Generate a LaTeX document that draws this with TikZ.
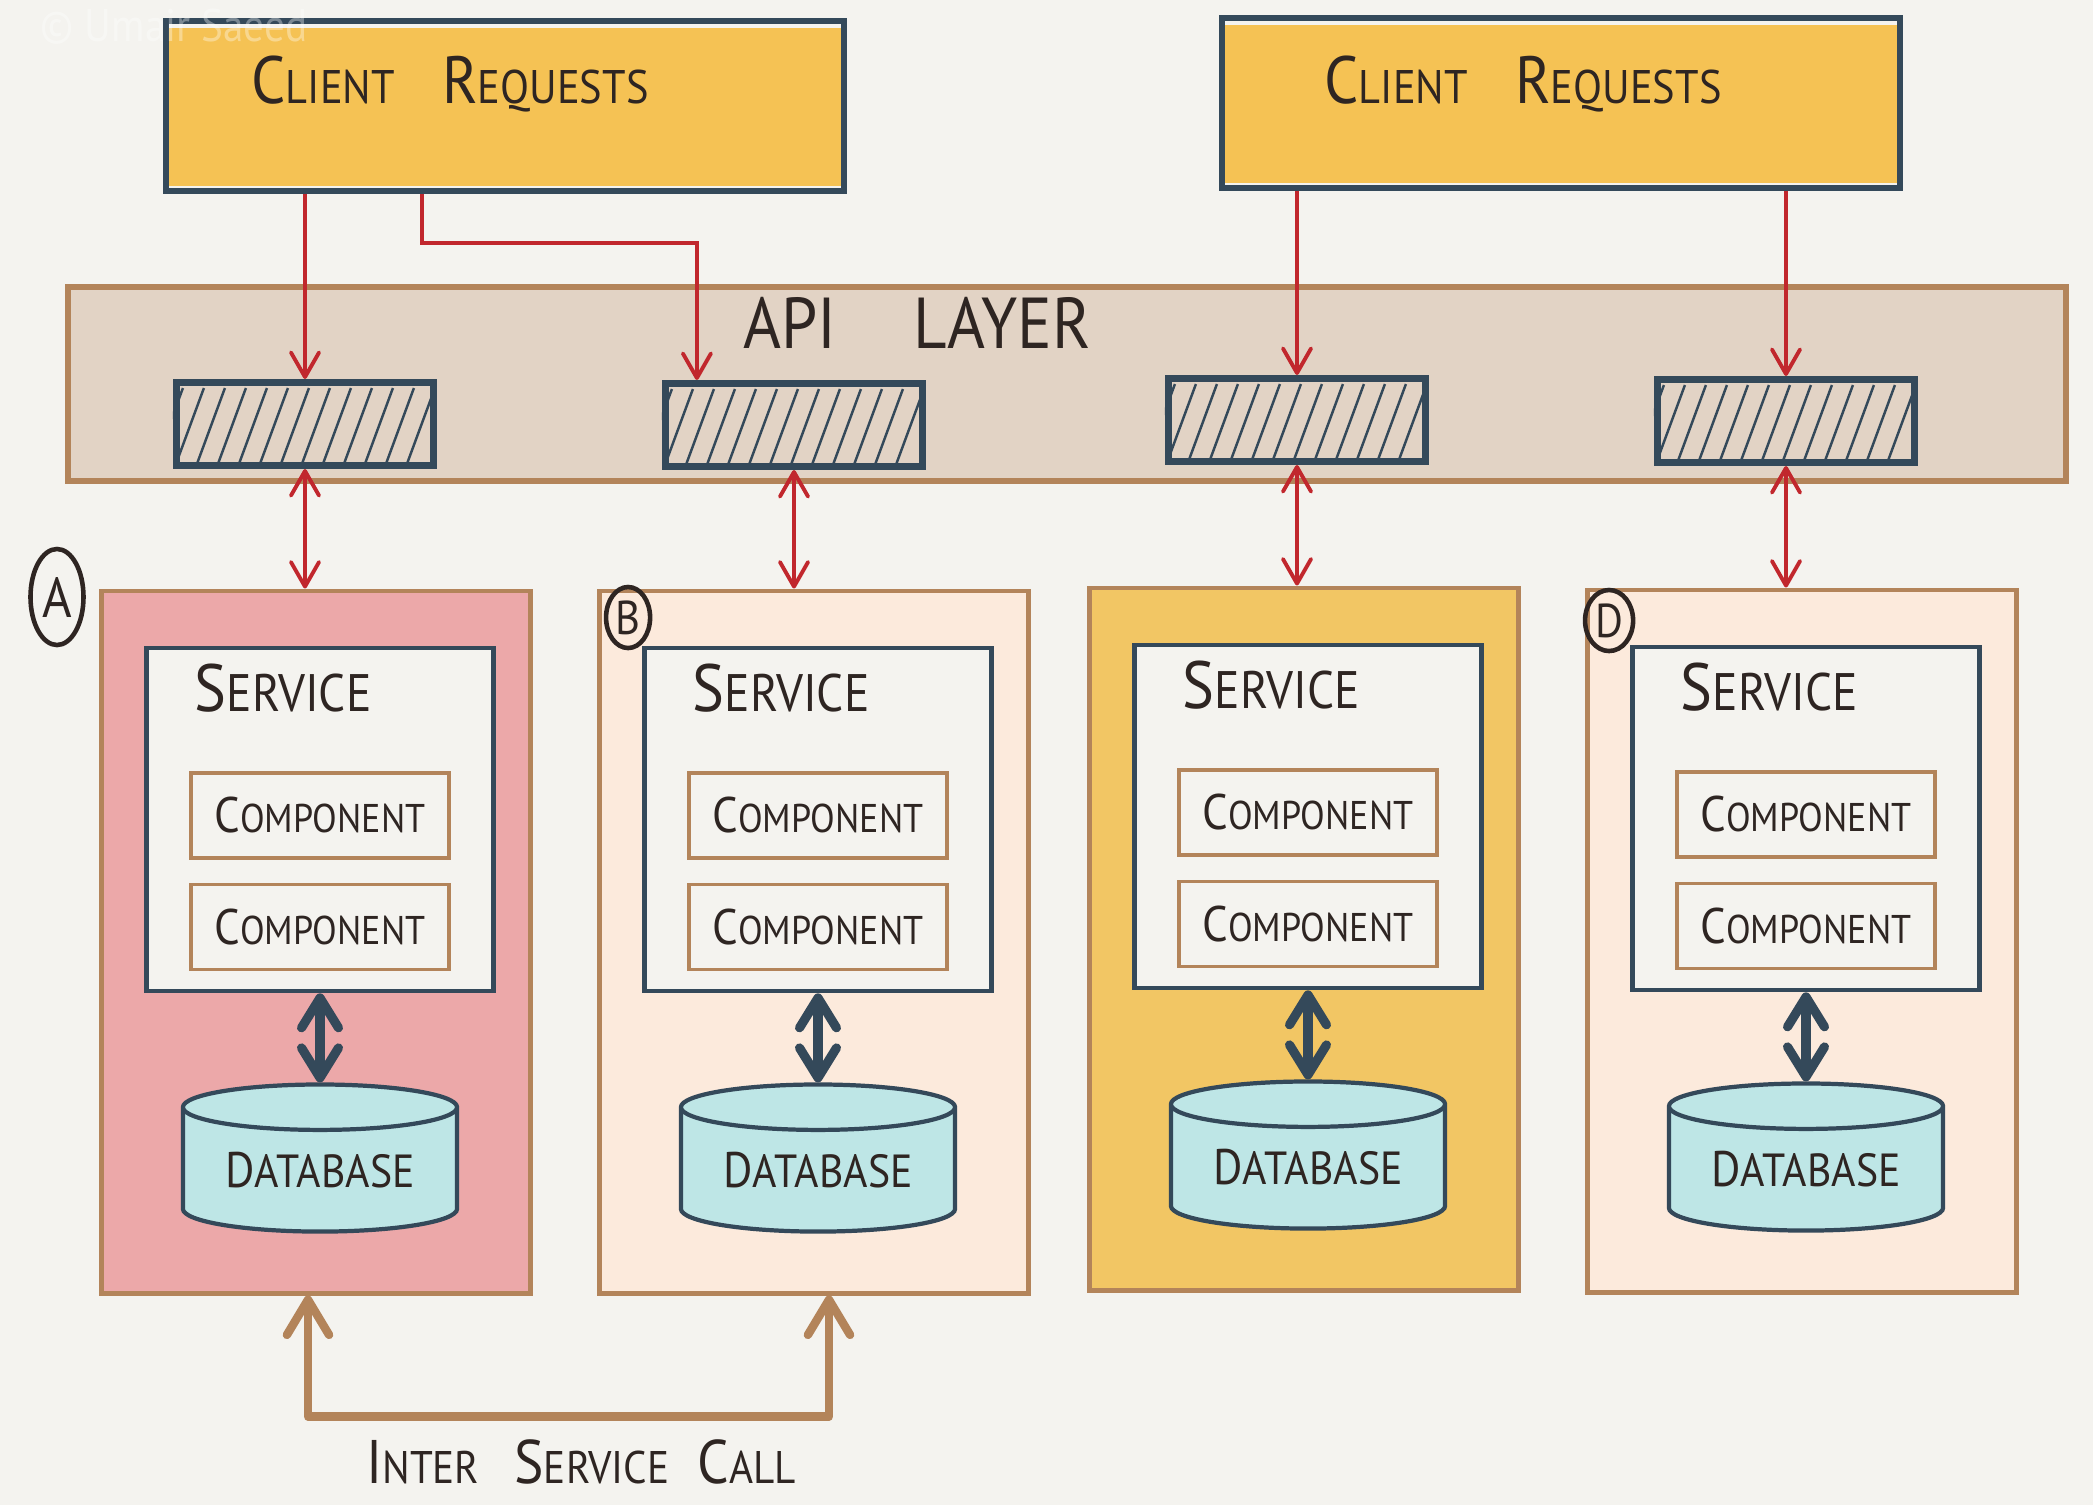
\documentclass[tikz,border=0pt]{standalone}
\usepackage{fontspec}
\setmainfont{PT Sans}[FakeStretch=0.9]
\usetikzlibrary{arrows.meta,positioning,shapes.geometric}
\definecolor{paper}{HTML}{F4F3EF}
\definecolor{slate}{HTML}{34495A}
\definecolor{brownline}{HTML}{B3845A}
\definecolor{reqyellow}{HTML}{F5C254}
\definecolor{apifill}{HTML}{E2D3C5}
\definecolor{washred}{HTML}{ECA8A9}
\definecolor{washpeach}{HTML}{FCEADC}
\definecolor{washyellow}{HTML}{F2C664}
\definecolor{dbfill}{HTML}{BEE6E6}
\definecolor{reqred}{HTML}{C1272D}
\definecolor{ink}{HTML}{2E2522}
\newcommand{\hcap}[2]{{\fontsize{#1}{#1}\selectfont #2}}
\tikzset{
  reqbox/.style={draw=slate, line width=1.7pt, minimum width=6.78cm, minimum height=1.69cm, inner sep=0pt},
  apibox/.style={draw=brownline, fill=apifill, line width=1.7pt, minimum width=19.96cm, minimum height=1.94cm, inner sep=0pt},
  hatchbox/.style={draw=slate, line width=2pt, minimum width=2.57cm, minimum height=0.83cm, inner sep=0pt},
  hatchline/.style={draw=slate, line width=0.7pt},
  outbox/.style={draw=brownline, line width=1.3pt, minimum width=4.29cm, minimum height=7.02cm, inner sep=0pt},
  svcbox/.style={draw=slate, fill=paper, line width=1.3pt, minimum width=3.47cm, minimum height=3.43cm, inner sep=0pt},
  compbox/.style={draw=brownline, line width=1.1pt, minimum width=2.58cm, minimum height=0.85cm, inner sep=0pt, font=\fontsize{11.4pt}{13pt}\selectfont},
  dbcyl/.style={cylinder, shape border rotate=90, aspect=0.24, draw=slate, fill=dbfill, line width=1.2pt, minimum width=2.74cm, minimum height=1.47cm, inner sep=0pt, font=\fontsize{13.2pt}{15pt}\selectfont},
  tag/.style={ellipse, draw=ink, line width=1.3pt, inner sep=0pt},
  reqtext/.style={inner sep=0pt, font=\fontsize{13.4pt}{15pt}\selectfont},
  svctext/.style={inner sep=0pt, font=\fontsize{15pt}{17pt}\selectfont},
  reqarrow/.style={-{Straight Barb[round,length=7pt,width=8pt]}, draw=reqred, line width=1.1pt},
  apiarrow/.style={{Straight Barb[round,length=7pt,width=8pt]}-{Straight Barb[round,length=7pt,width=8pt]}, draw=reqred, line width=1.1pt},
  dbarrow/.style={{Straight Barb[round,length=8.5pt,width=10.5pt]}-{Straight Barb[round,length=8.5pt,width=10.5pt]}, draw=slate, line width=2.6pt},
  callarrow/.style={{Straight Barb[round,length=10pt,width=12pt]}-{Straight Barb[round,length=10pt,width=12pt]}, draw=brownline, line width=2.4pt, line join=round}
}
\begin{document}
\begin{tikzpicture}[x=0.01cm, y=-0.01cm, text=ink]
\path[use as bounding box, fill=paper] (0,0) rectangle (2093,1505);

% client requests
\node[reqbox] (client1) at (505,106) {};
\node[reqbox] (client2) at (1561,103) {};
\foreach \c in {client1,client2}
  \fill[reqyellow] ([shift={(6,10)}]\c.north west) rectangle ([shift={(-6,-8)}]\c.south east);
\node[reqtext, anchor=west] (reqlbl1) at ([shift={(88,66)}]client1.north west) {\hcap{19pt}{C}LIENT\quad \hcap{19pt}{R}EQUESTS};
\node[reqtext, anchor=west] (reqlbl2) at ([shift={(105,69)}]client2.north west) {\hcap{19pt}{C}LIENT\quad \hcap{19pt}{R}EQUESTS};

% api layer
\node[apibox] (api) at (1067,384) {};
\node[inner sep=0pt, font=\fontsize{20.5pt}{22pt}\selectfont] (apilbl) at (917,323) {API\hspace{22pt}LAYER};

% one column per service
\foreach \k/\ox/\oy/\hx/\hy/\wash in {A/316/942/305/424/washred, B/814/942/794/425/washpeach, C/1304/939/1297/420/washyellow, D/1802/941/1786/421/washpeach}{
  \node[hatchbox] (hatch\k) at (\hx,\hy) {};
  \begin{scope}
    \clip (hatch\k.south west) rectangle (hatch\k.north east);
    \foreach \i in {0,...,12}
      \draw[hatchline] ([shift={(\i*21-18,-5)}]hatch\k.south west) -- ++(28,-76);
  \end{scope}
  \node[outbox, fill=\wash] (out\k) at (\ox,\oy) {};
  \node[svcbox, below=0.57cm of out\k.north, xshift=0.04cm] (svc\k) {};
  \node[svctext, anchor=west] (svclbl\k) at ([shift={(50,43)}]svc\k.north west) {\hcap{19pt}{S}ERVICE};
  \node[compbox, below=1.25cm of svc\k.north] (comp\k1) {\hcap{14.2pt}{C}OMPONENT};
  \node[compbox, below=0.23cm of comp\k1] (comp\k2) {\hcap{14.2pt}{C}OMPONENT};
  \node[dbcyl, below=0.89cm of svc\k.south] (db\k) {\hcap{14.2pt}{D}ATABASE};
  \draw[dbarrow] (svc\k.south) -- (db\k.north);
  \draw[apiarrow] (hatch\k.south) -- (hatch\k.south |- out\k.north);
}

% service tags
\node[tag, minimum width=0.53cm, minimum height=0.96cm, font=\fontsize{16pt}{16pt}\selectfont] (tagA) at (57,597) {A};
\node[tag, minimum width=0.44cm, minimum height=0.61cm, font=\fontsize{13.5pt}{14pt}\selectfont] (tagB) at ([shift={(31,29)}]outB.north west) {B};
\node[tag, minimum width=0.48cm, minimum height=0.61cm, font=\fontsize{13.5pt}{14pt}\selectfont] (tagD) at ([shift={(24,33)}]outD.north west) {D};

% requests into the api layer
\coordinate (reqbend) at (422,243);
\draw[reqarrow] (client1.south -| hatchA.north) -- (hatchA.north);
\draw[reqarrow] (client1.south -| reqbend) -- (reqbend) -| ([shift={(35,0)}]hatchB.north west);
\draw[reqarrow] (client2.south -| hatchC.north) -- (hatchC.north);
\draw[reqarrow] (client2.south -| hatchD.north) -- (hatchD.north);

% inter service call
\draw[callarrow] ([shift={(-8,0)}]outA.south) -- ++(0,121) -| ([shift={(15,0)}]outB.south);
\node[inner sep=0pt, font=\fontsize{13pt}{15pt}\selectfont] (calllbl) at (581,1462) {\hcap{17.5pt}{I}NTER\hspace{10pt}\hcap{17.5pt}{S}ERVICE\hspace{8pt}\hcap{17.5pt}{C}ALL};

\node[anchor=west, inner sep=0pt, text=white, text opacity=0.35, font=\fontsize{13pt}{15pt}\selectfont] (mark) at (40,27) {© Umair Saeed};
\end{tikzpicture}
\end{document}
